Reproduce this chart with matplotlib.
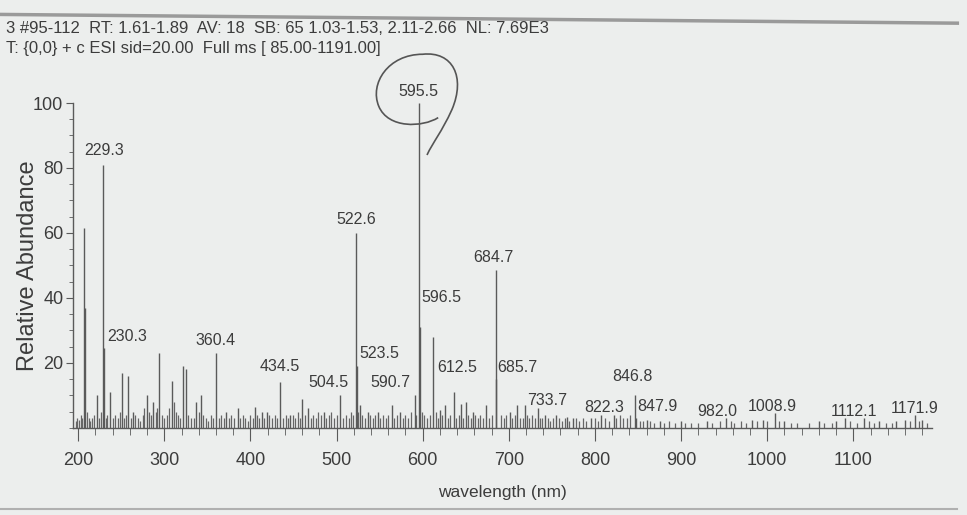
import matplotlib
matplotlib.use("Agg")
import matplotlib.pyplot as plt
from matplotlib.path import Path
from matplotlib.patches import PathPatch
from matplotlib.lines import Line2D
from matplotlib.ticker import MultipleLocator

plt.rcParams["font.family"] = ["Liberation Sans", "DejaVu Sans"]

# --- header lines of the instrument printout ---
header_1 = "3 #95-112  RT: 1.61-1.89  AV: 18  SB: 65 1.03-1.53, 2.11-2.66  NL: 7.69E3"
header_2 = "T: {0,0} + c ESI sid=20.00  Full ms [ 85.00-1191.00]"

# --- main peaks (m/z, relative abundance %) ---
peak_mz = [207.0, 208.0, 221.6, 229.3, 230.3, 237.0, 250.7, 258.0, 263.5, 279.7,
           287.0, 294.0, 308.7, 321.8, 325.0, 337.0, 342.7, 360.4, 372.0, 385.6,
           405.0, 413.0, 419.0, 434.5, 446.0, 460.0, 467.0, 485.0, 504.5, 522.6,
           523.5, 527.0, 536.0, 548.0, 564.0, 573.5, 590.7, 595.5, 596.5, 612.5,
           620.0, 626.0, 636.0, 644.0, 650.0, 658.0, 674.0, 684.7, 685.7, 701.0,
           710.0, 718.6, 733.7, 741.8, 755.0, 767.0, 774.0, 796.0, 807.5, 822.3,
           846.8, 847.9, 860.0, 875.0, 900.0, 930.0, 952.0, 982.0, 995.0, 1008.9,
           1020.0, 1060.0, 1080.0, 1090.0, 1112.1, 1130.0, 1150.0, 1160.0, 1171.9, 1180.0]
peak_ab = [61.5, 37.0, 10.0, 81.0, 24.5, 11.0, 17.0, 16.0, 5.0, 10.0,
           8.0, 23.0, 14.5, 19.0, 18.0, 8.0, 10.0, 23.0, 5.0, 6.0,
           6.5, 5.0, 5.0, 14.0, 4.0, 9.0, 6.0, 5.0, 10.0, 60.0,
           19.0, 7.0, 5.0, 5.0, 7.0, 5.0, 10.0, 100.0, 31.0, 28.0,
           5.5, 7.0, 11.0, 7.5, 8.0, 5.0, 7.0, 48.5, 15.0, 5.0,
           7.0, 7.0, 6.0, 4.0, 4.0, 3.5, 3.0, 3.0, 4.0, 4.0,
           10.0, 3.0, 2.5, 2.0, 2.0, 2.0, 3.0, 2.5, 2.5, 4.5,
           2.0, 2.0, 2.0, 3.0, 3.0, 2.0, 2.0, 2.5, 4.0, 2.5]

# --- small baseline peaks ---
noise_mz = [197, 199, 201, 203, 205, 210, 212, 214, 216, 218, 224, 226, 232, 234, 240,
            243, 246, 248, 253, 256, 261, 266, 269, 272, 275, 277, 282, 284, 290, 292,
            297, 300, 303, 306, 311, 313, 316, 318, 328, 331, 334, 340, 345, 348, 351,
            354, 357, 363, 366, 369, 375, 378, 381, 388, 391, 394, 397, 400, 403, 408,
            410, 416, 422, 425, 428, 431, 438, 441, 444, 449, 452, 455, 458, 463, 470,
            473, 476, 479, 482, 488, 491, 494, 497, 500, 508, 511, 514, 517, 519, 525,
            530, 533, 539, 542, 545, 551, 554, 557, 560, 567, 570, 577, 580, 583, 586,
            592, 599, 602, 605, 608, 615, 618, 623, 629, 632, 639, 642, 647, 653, 656,
            661, 664, 667, 670, 677, 680, 691, 694, 697, 704, 707, 713, 716, 721, 724,
            727, 730, 736, 739, 745, 748, 751, 758, 762, 765, 770, 778, 782, 786, 790,
            800, 803, 812, 816, 825, 829, 833, 837, 841, 852, 856, 864, 868, 880, 886,
            893, 905, 912, 920, 936, 945, 958, 962, 970, 975, 988, 1000, 1014, 1028, 1035,
            1048, 1066, 1075, 1096, 1104, 1118, 1124, 1138, 1145, 1166, 1176, 1185]
noise_ab = [2, 3, 2.5, 4, 3, 5, 3, 2, 3, 4, 3, 5, 3, 4, 3,
            4, 3, 5, 3, 4, 3, 4, 3, 2, 4, 6, 5, 4, 5, 6,
            4, 3, 4, 6, 8, 5, 4, 3, 4, 3, 3, 5, 4, 3, 2,
            4, 3, 3, 4, 3, 3, 4, 3, 3, 4, 3, 2, 4, 3, 4,
            3, 3, 4, 3, 4, 3, 3, 4, 3, 4, 3, 5, 3, 4, 3,
            4, 3, 5, 4, 3, 4, 5, 3, 4, 3, 4, 3, 5, 4, 5,
            4, 3, 4, 3, 4, 3, 4, 3, 4, 3, 4, 3, 4, 3, 5,
            4, 5, 4, 3, 4, 5, 3, 4, 3, 4, 3, 4, 3, 4, 3,
            4, 3, 4, 3, 3, 4, 4, 3, 4, 3, 4, 3, 3, 4, 3,
            4, 3, 3, 3, 3, 2, 3, 3, 2, 3, 2, 3, 2, 3, 2,
            3, 2, 3, 2, 3, 4, 3, 3, 4, 2, 2, 2, 1.5, 1.5, 2,
            1.5, 1.5, 1.5, 1.5, 1.5, 2, 2, 1.5, 2, 1.5, 2, 2, 2, 1.5, 1.5,
            1.5, 1.5, 1.5, 2, 1.5, 2, 1.5, 1.5, 1.5, 2, 2, 1.5]

# labelled peaks and where the printout put each label (m/z, %)
peak_labels = ["229.3", "230.3", "360.4", "434.5", "504.5", "522.6", "523.5", "590.7",
               "595.5", "596.5", "612.5", "684.7", "685.7", "733.7", "822.3", "846.8",
               "847.9", "982.0", "1008.9", "1112.1", "1171.9"]
label_xy = [(230, 85.5), (257, 28), (360, 27), (434, 19), (490, 14), (522.5, 64),
            (550, 23), (562, 14), (594.5, 103.4), (622, 40), (640, 18.5), (682.6, 52.6),
            (710, 18.5), (745, 8.6), (811, 6.2), (844, 15.7), (873, 6.5), (942, 5),
            (1006, 6.5), (1101, 5), (1171, 6)]

bg = "#eceeed"
ink = "#3c3c3c"
line_c = "#5a5a5a"

fig = plt.figure(figsize=(9.67, 5.15), dpi=100, facecolor=bg)
ax = fig.add_axes([0.0755, 0.169, 0.888, 0.631], facecolor=bg)

ax.vlines(noise_mz, 0, noise_ab, color="#666666", linewidth=0.9)
ax.vlines(peak_mz, 0, peak_ab, color=line_c, linewidth=1.0)

for txt, (lx, ly) in zip(peak_labels, label_xy):
    ax.text(lx, ly, txt, ha="center", va="center", fontsize=11.5, color=ink, clip_on=False)

# hand-drawn ring around the base peak
ring = Path([(618, 95.5), (600, 92.5), (560, 92), (549, 99),
             (538, 106), (560, 115), (600, 115),
             (635, 116), (650, 108), (634, 98),
             (622, 91), (612, 88), (605, 84)],
            [Path.MOVETO, Path.CURVE4, Path.CURVE4, Path.CURVE4,
             Path.CURVE4, Path.CURVE4, Path.CURVE4,
             Path.CURVE4, Path.CURVE4, Path.CURVE4,
             Path.CURVE4, Path.CURVE4, Path.CURVE4])
ax.add_patch(PathPatch(ring, fill=False, edgecolor="#555555", linewidth=1.2, clip_on=False))

ax.set_xlim(194, 1191)
ax.set_ylim(0, 100)
ax.xaxis.set_major_locator(MultipleLocator(100))
ax.xaxis.set_minor_locator(MultipleLocator(20))
ax.yaxis.set_minor_locator(MultipleLocator(5))
ax.set_yticks([20, 40, 60, 80, 100])
ax.tick_params(axis="both", which="major", colors=line_c, labelcolor=ink, labelsize=13)
ax.tick_params(axis="x", which="major", length=9, pad=8)
ax.tick_params(axis="x", which="minor", length=5, colors=line_c)
ax.tick_params(axis="y", which="major", length=5, pad=2)
ax.tick_params(axis="y", which="minor", length=3, colors=line_c)
for side in ["top", "right"]:
    ax.spines[side].set_visible(False)
for side in ["left", "bottom"]:
    ax.spines[side].set_color(line_c)
    ax.spines[side].set_linewidth(1.0)

ax.set_xlabel("wavelength (nm)", fontsize=12.5, color=ink)
ax.xaxis.set_label_coords(0.5, -0.175)
ax.set_ylabel("Relative Abundance", fontsize=17, color=ink)
ax.yaxis.set_label_coords(-0.04, 0.5)

fig.text(0.006, 0.945, header_1, fontsize=12, color=ink, va="center", ha="left")
fig.text(0.006, 0.905, header_2, fontsize=12, color=ink, va="center", ha="left")

# edges of the scanned sheet
fig.add_artist(Line2D([0.0, 0.99], [0.972, 0.955], color="#9a9a9a", linewidth=2.5))
fig.add_artist(Line2D([0.0, 0.99], [0.012, 0.012], color="#b0b0b0", linewidth=1.5))

fig.savefig("out.png", dpi=100, facecolor=bg)
